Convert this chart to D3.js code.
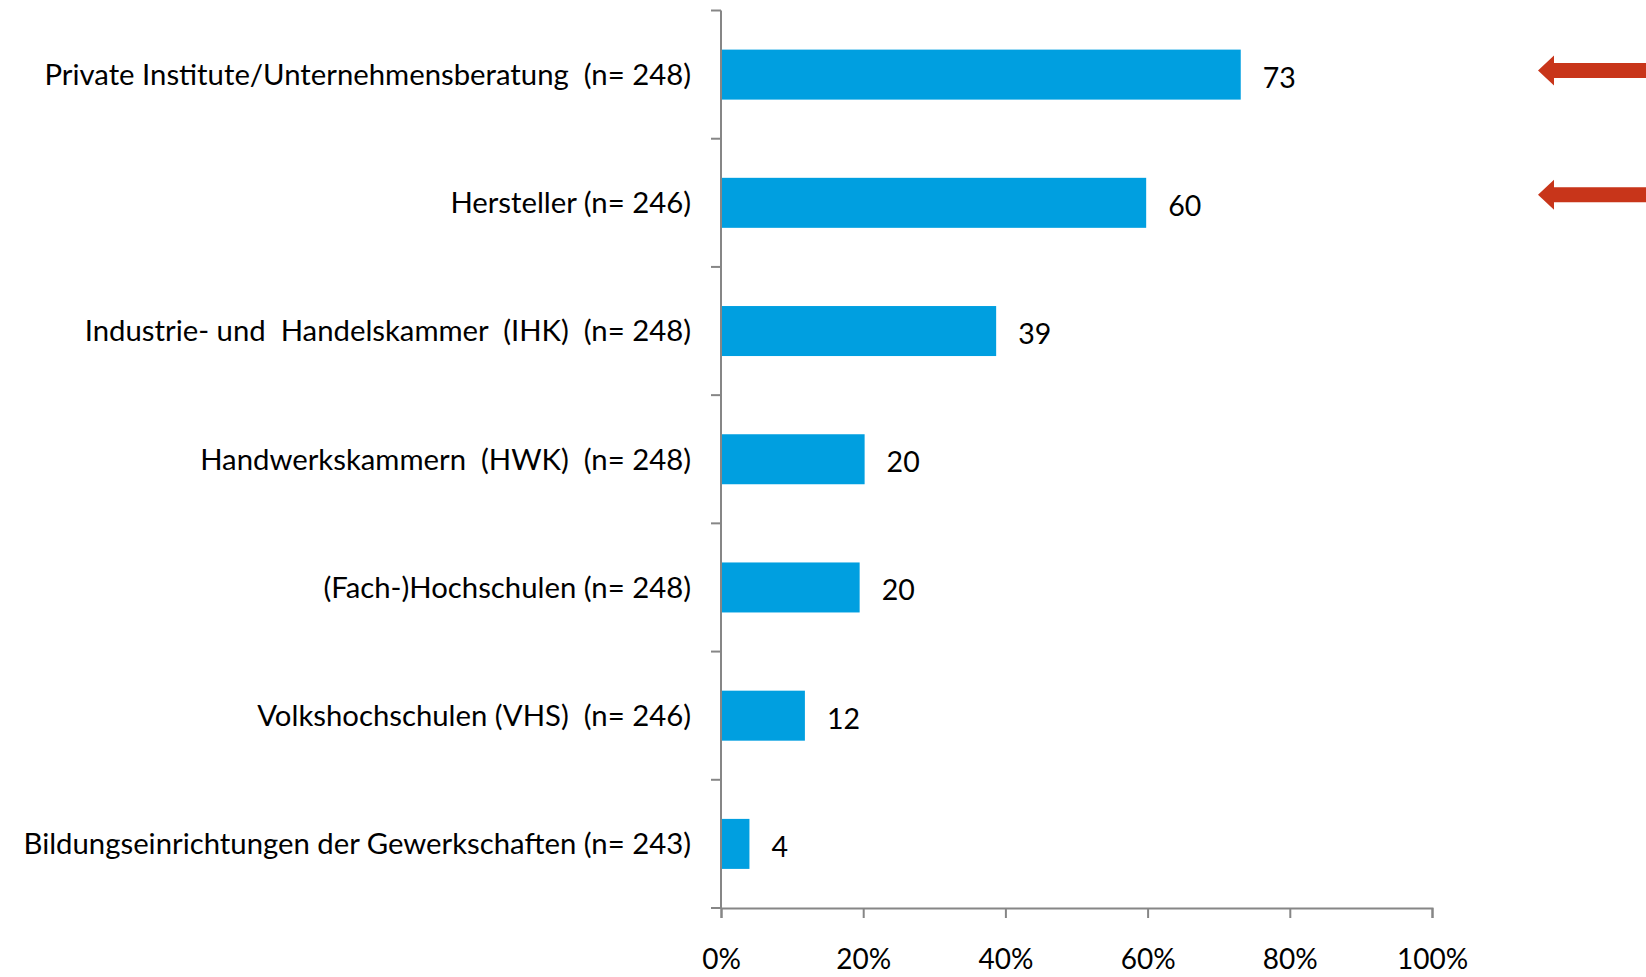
<!DOCTYPE html>
<html>
<head>
<meta charset="utf-8">
<script src="https://cdn.jsdelivr.net/npm/d3@7"></script>
<style>
  body { margin: 0; background: #fff; }
  text { font-family: Lato, "Liberation Sans", sans-serif; fill: #000; white-space: pre; }
</style>
</head>
<body>
<div id="chart"></div>
<script>
var categories = [
  "Private Institute/Unternehmensberatung  (n= 248)",
  "Hersteller (n= 246)",
  "Industrie- und  Handelskammer  (IHK)  (n= 248)",
  "Handwerkskammern  (HWK)  (n= 248)",
  "(Fach-)Hochschulen (n= 248)",
  "Volkshochschulen (VHS)  (n= 246)",
  "Bildungseinrichtungen der Gewerkschaften (n= 243)"
];
var values = [73.1, 59.8, 38.7, 20.2, 19.5, 11.8, 4.0];
var xTicks = [0, 20, 40, 60, 80, 100];
var highlighted = [
  "Private Institute/Unternehmensberatung  (n= 248)",
  "Hersteller (n= 246)"
];

var width = 1646,
    height = 977;

var margin = {top: 10.5, left: 721, right: 214, bottom: 69};

var svg = d3.select("#chart").append("svg")
    .attr("width", width)
    .attr("height", height);

var x = d3.scaleLinear()
    .domain([0, 100])
    .range([margin.left, width - margin.right]);

var y = d3.scaleBand()
    .domain(categories)
    .range([margin.top, height - margin.bottom])
    .paddingInner(0.61)
    .paddingOuter(0.305);

var fmt = d3.format(".0f");

// category tick marks between bands
var step = y.step();
var yTickPos = d3.range(categories.length + 1).map(function(i) { return margin.top + i * step; });

var axisColor = "#868686";

svg.append("g").selectAll("line")
    .data(yTickPos)
  .enter().append("line")
    .attr("x1", margin.left - 10)
    .attr("x2", margin.left)
    .attr("y1", function(d) { return d; })
    .attr("y2", function(d) { return d; })
    .attr("stroke", axisColor)
    .attr("stroke-width", 2);

svg.append("line")
    .attr("x1", margin.left)
    .attr("x2", margin.left)
    .attr("y1", margin.top)
    .attr("y2", height - margin.bottom)
    .attr("stroke", axisColor)
    .attr("stroke-width", 2);

// x axis
var xAxis = svg.append("g")
    .attr("transform", "translate(0," + (height - margin.bottom) + ")")
    .call(d3.axisBottom(x)
      .tickValues(xTicks)
      .tickSize(10)
      .tickPadding(31)
      .tickFormat(function(d) { return d + "%"; }));

xAxis.select(".domain").attr("stroke", axisColor).attr("stroke-width", 2);
xAxis.selectAll(".tick line").attr("stroke", axisColor).attr("stroke-width", 2);
xAxis.selectAll(".tick text")
    .attr("font-size", 28)
    .style("font-family", "Lato, sans-serif");

// bars
svg.append("g").selectAll("rect")
    .data(values)
  .enter().append("rect")
    .attr("x", x(0) + 1)
    .attr("y", function(d, i) { return y(categories[i]); })
    .attr("width", function(d) { return x(d) - x(0) - 1; })
    .attr("height", y.bandwidth())
    .attr("fill", "#009fe0");

// value labels
svg.append("g").selectAll("text")
    .data(values)
  .enter().append("text")
    .attr("x", function(d) { return x(d) + 22; })
    .attr("y", function(d, i) { return y(categories[i]) + y.bandwidth() / 2 + 3; })
    .attr("dy", ".35em")
    .attr("font-size", 28.5)
    .text(function(d) { return fmt(d); });

// category labels
svg.append("g").selectAll("text")
    .data(categories)
  .enter().append("text")
    .attr("x", 691)
    .attr("y", function(d) { return y(d) + y.bandwidth() / 2; })
    .attr("dy", ".35em")
    .attr("text-anchor", "end")
    .attr("font-size", 29.3)
    .text(function(d) { return d; });

// red arrows
var tipX = 1538, headLen = 16, headH = 15, shaftH = 7.5;
var nudge = [-4, -8];
svg.append("g").selectAll("path")
    .data(highlighted)
  .enter().append("path")
    .attr("d", function(d, i) {
      var cy = y(d) + y.bandwidth() / 2 + nudge[i];
      return "M" + tipX + "," + cy +
        "L" + (tipX + headLen) + "," + (cy - headH) +
        "L" + (tipX + headLen) + "," + (cy - shaftH) +
        "L" + width + "," + (cy - shaftH) +
        "L" + width + "," + (cy + shaftH) +
        "L" + (tipX + headLen) + "," + (cy + shaftH) +
        "L" + (tipX + headLen) + "," + (cy + headH) + "Z";
    })
    .attr("fill", "#c8351a");
</script>
</body>
</html>
